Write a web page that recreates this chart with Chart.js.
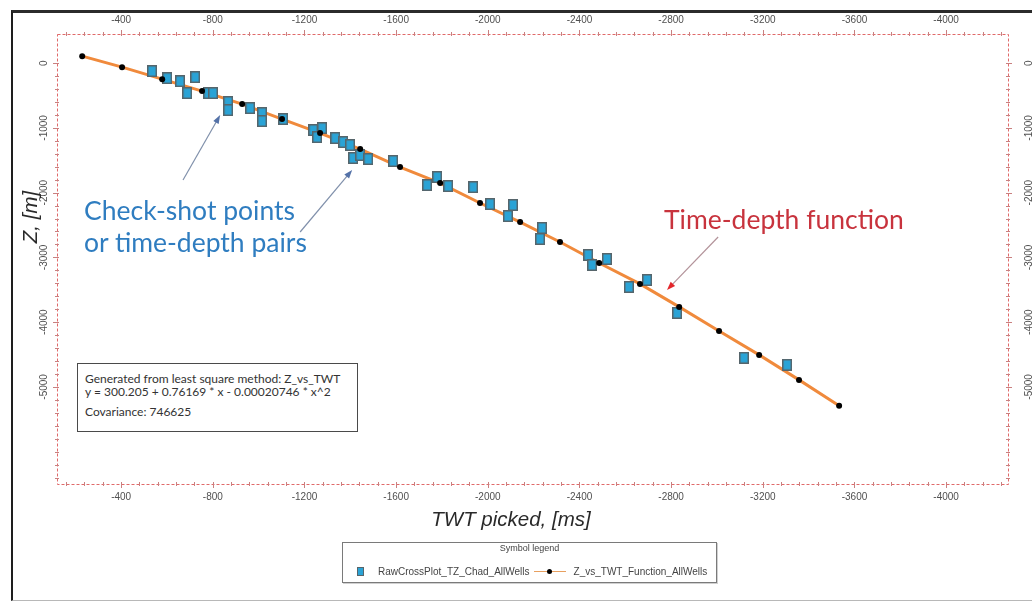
<!DOCTYPE html>
<html>
<head>
<meta charset="utf-8">
<script src="https://cdn.jsdelivr.net/npm/chart.js@4.4.1/dist/chart.umd.min.js"></script>
<style>
  html, body { margin: 0; padding: 0; background: #fff; }
  #wrap { position: relative; width: 1032px; height: 601px; overflow: hidden; }
  #outer { position: absolute; left: 11px; top: 10px; width: 1030px; height: 587px;
    border-top: 3px solid #2b2b2b; border-left: 2px solid #1e1e1e; border-bottom: 1px solid #b8b8b8; }
  #viz { position: absolute; left: 0; top: 0; }
  .note { position: absolute; font-family: Lato, "Open Sans", sans-serif; font-size: 26.5px; line-height: 32px; white-space: nowrap; }
  #note1 { left: 84px; top: 194px; color: #2f7dc0; }
  #note2 { left: 664px; top: 203px; color: #c8333d; }
  .axtitle { position: absolute; font-family: "Liberation Sans", Arial, sans-serif; font-style: italic; font-size: 20.5px;
    color: #2a2a2a; white-space: nowrap; }
  #xtitle { left: 511px; top: 519px; transform: translate(-50%, -50%); }
  #ytitle { left: 30px; top: 217px; transform: translate(-50%, -50%) rotate(-90deg); }
  #formula { position: absolute; left: 77px; top: 363px; width: 279px; height: 67px; border: 1px solid #4a4a4a; background: #fff;
    font-family: Lato, "Open Sans", sans-serif; font-size: 12px; color: #333; line-height: 13px; }
  #formula div { position: absolute; left: 7px; white-space: nowrap; }
  #legend { position: absolute; left: 342px; top: 542px; width: 373px; height: 39px; border: 1px solid #7a7a7a;
    box-shadow: 1px 1px 0 #d0d0d0; background: #fff; font-family: "Liberation Sans", Arial, sans-serif; color: #444; }
  #legend .title { position: absolute; left: 0; right: 0; top: 0px; text-align: center; font-size: 9px; }
  #legend .row { position: absolute; left: 14px; top: 23px; font-size: 10px; white-space: nowrap; display: flex; align-items: center; }
  .sq { display: inline-block; width: 5px; height: 7px; background: #2aa3d6; border: 1px solid #56656b; margin-right: 14px; }
  .ln { display: inline-block; position: relative; width: 32px; height: 9px; margin: 0 8px 0 4px; }
  .ln::before { content: ""; position: absolute; left: 0; right: 0; top: 4px; height: 1px; background: #e8a060; }
  .ln::after { content: ""; position: absolute; left: 13px; top: 2px; width: 5px; height: 5px; border-radius: 50%; background: #000; }
</style>
</head>
<body>
<div id="wrap">
  <div id="outer"></div>
  <canvas id="viz" width="1032" height="601"></canvas>
  <div class="note" id="note1">Check-shot points<br>or time-depth pairs</div>
  <div class="note" id="note2">Time-depth function</div>
  <div class="axtitle" id="xtitle">TWT picked, [ms]</div>
  <div class="axtitle" id="ytitle">Z, [m]</div>
  <div id="formula">
    <div style="top:8px">Generated from least square method: Z_vs_TWT</div>
    <div style="top:21px">y = 300.205 + 0.76169 * x - 0.00020746 * x^2</div>
    <div style="top:41px">Covariance: 746625</div>
  </div>
  <div id="legend">
    <div class="title">Symbol legend</div>
    <div class="row"><span class="sq"></span>RawCrossPlot_TZ_Chad_AllWells<span class="ln"></span>Z_vs_TWT_Function_AllWells</div>
  </div>
</div>
<script>
// TWT picked [ms] / Z [m] of the raw check-shot pairs
const rawTwt = [-535, -601, -657, -723, -688, -780, -801, -867, -867, -963, -1015, -1015, -1107, -1238,
  -1277, -1255, -1334, -1369, -1399, -1412, -1443, -1478, -1587, -1735, -1779, -1827, -1936, -2010,
  -2110, -2088, -2237, -2228, -2438, -2455, -2520, -2616, -2695, -2826, -3118, -3306];
const rawZ = [-123, -232, -278, -216, -463, -463, -463, -602, -725, -694, -772, -895, -864, -1034,
  -1003, -1142, -1157, -1219, -1265, -1466, -1420, -1481, -1512, -1883, -1759, -1898, -1914, -2176,
  -2191, -2361, -2546, -2716, -2963, -3117, -3025, -3457, -3349, -3858, -4552, -4660];

// samples of the fitted time-depth function
const fnTwt = [-230, -404, -579, -753, -928, -1102, -1268, -1443, -1617, -1792, -1966, -2141,
  -2315, -2486, -2664, -2835, -3009, -3184, -3358, -3533];
const fnZ = [108, -62, -247, -432, -633, -864, -1080, -1327, -1605, -1852, -2160, -2454,
  -2762, -3086, -3410, -3765, -4136, -4506, -4892, -5293];

// tick labels
const xTicks = [-400, -800, -1200, -1600, -2000, -2400, -2800, -3200, -3600, -4000];
const yTicks = [0, -1000, -2000, -3000, -4000, -5000];
const xMinorStep = 80, yMinorStep = 200;

// annotation arrows in data units: [twt, z]
const arrows = [
  { from: [-670, -1806], to: [-832, -802], line: '#8090ab', head: '#5472a8' },
  { from: [-1181, -2608], to: [-1408, -1651], line: '#8090ab', head: '#5472a8' },
  { from: [-3005, -2685], to: [-2782, -3503], line: '#b3939a', head: '#e3262b' }
];

const rawPoints = rawTwt.map((t, i) => ({ x: t, y: rawZ[i] }));
const fnPoints = fnTwt.map((t, i) => ({ x: t, y: fnZ[i] }));

function squareSymbol() {
  const c = document.createElement('canvas');
  c.width = 10; c.height = 12;
  const g = c.getContext('2d');
  g.fillStyle = '#56656b';
  g.fillRect(0, 0, 10, 12);
  g.fillStyle = '#2aa3d6';
  g.fillRect(1.5, 1.5, 7, 9);
  return c;
}

const labelFont = '10px "Liberation Sans", Arial, sans-serif';

const framePlugin = {
  id: 'frame',
  beforeDatasetsDraw(chart) {
    const { ctx, chartArea: a, scales } = chart;
    ctx.save();
    ctx.strokeStyle = '#e06a6a';
    ctx.lineWidth = 1;
    ctx.setLineDash([3, 2]);
    ctx.strokeRect(a.left + 0.5, a.top + 0.5, a.width, a.height);
    ctx.setLineDash([]);

    // minor and major tick marks on all four sides
    ctx.strokeStyle = '#c98080';
    ctx.beginPath();
    for (let v = 0; v >= scales.x.min; v -= xMinorStep) {
      if (v > scales.x.max) continue;
      const px = Math.round(scales.x.getPixelForValue(v)) + 0.5;
      const len = xTicks.includes(v) ? 4 : 2;
      ctx.moveTo(px, a.top - len); ctx.lineTo(px, a.top + 2);
      ctx.moveTo(px, a.bottom - 2); ctx.lineTo(px, a.bottom + len);
    }
    for (let v = 0; v >= scales.y.min; v -= yMinorStep) {
      const py = Math.round(scales.y.getPixelForValue(v)) + 0.5;
      const len = yTicks.includes(v) ? 4 : 2;
      ctx.moveTo(a.left - len, py); ctx.lineTo(a.left + 2, py);
      ctx.moveTo(a.right - 2, py); ctx.lineTo(a.right + len, py);
    }
    ctx.stroke();

    // tick labels
    ctx.fillStyle = '#505050';
    ctx.font = labelFont;
    ctx.textAlign = 'center';
    ctx.textBaseline = 'middle';
    xTicks.forEach(v => {
      const px = scales.x.getPixelForValue(v);
      ctx.fillText(String(v), px, a.top - 14);
      ctx.fillText(String(v), px, a.bottom + 13);
    });
    yTicks.forEach(v => {
      const py = scales.y.getPixelForValue(v);
      [a.left - 13, a.right + 21].forEach(px => {
        ctx.save();
        ctx.translate(px, py);
        ctx.rotate(-Math.PI / 2);
        ctx.fillText(String(v), 0, 0);
        ctx.restore();
      });
    });
    ctx.restore();
  },
  afterDraw(chart) {
    const { ctx, scales } = chart;
    ctx.save();
    arrows.forEach(ar => {
      const x0 = scales.x.getPixelForValue(ar.from[0]), y0 = scales.y.getPixelForValue(ar.from[1]);
      const x1 = scales.x.getPixelForValue(ar.to[0]), y1 = scales.y.getPixelForValue(ar.to[1]);
      const ang = Math.atan2(y1 - y0, x1 - x0);
      ctx.strokeStyle = ar.line;
      ctx.lineWidth = 1.2;
      ctx.beginPath();
      ctx.moveTo(x0, y0);
      ctx.lineTo(x1 - 6 * Math.cos(ang), y1 - 6 * Math.sin(ang));
      ctx.stroke();
      ctx.fillStyle = ar.head;
      ctx.beginPath();
      ctx.moveTo(x1, y1);
      ctx.lineTo(x1 - 9 * Math.cos(ang - 0.35), y1 - 9 * Math.sin(ang - 0.35));
      ctx.lineTo(x1 - 9 * Math.cos(ang + 0.35), y1 - 9 * Math.sin(ang + 0.35));
      ctx.closePath();
      ctx.fill();
    });
    ctx.restore();
  }
};

function xAxis(position, height) {
  return {
    type: 'linear', position: position, reverse: true, min: -4270, max: -120,
    afterFit: s => { s.height = height; },
    border: { display: false },
    grid: { display: false },
    ticks: { display: false }
  };
}
function yAxis(position, width) {
  return {
    type: 'linear', position: position, min: -6500, max: 450,
    afterFit: s => { s.width = width; },
    border: { display: false },
    grid: { display: false },
    ticks: { display: false }
  };
}

const ctx = document.getElementById('viz');
new Chart(ctx, {
  type: 'scatter',
  data: {
    datasets: [
      {
        label: 'Z_vs_TWT_Function_AllWells points',
        data: fnPoints,
        showLine: false,
        pointRadius: 3,
        pointBackgroundColor: '#000',
        pointBorderColor: '#000',
        pointBorderWidth: 0
      },
      {
        label: 'RawCrossPlot_TZ_Chad_AllWells',
        data: rawPoints,
        pointStyle: squareSymbol(),
        pointRadius: 6
      },
      {
        label: 'Z_vs_TWT_Function_AllWells',
        data: fnPoints,
        showLine: true,
        borderColor: '#f08a3c',
        borderWidth: 3,
        pointRadius: 0
      }
    ]
  },
  options: {
    responsive: false,
    animation: false,
    devicePixelRatio: 1,
    layout: { padding: { left: 14, top: 0, right: 0, bottom: 69 } },
    plugins: { legend: { display: false }, tooltip: { enabled: false } },
    scales: {
      x: xAxis('bottom', 48),
      x2: xAxis('top', 34),
      y: yAxis('left', 43),
      y2: yAxis('right', 24)
    }
  },
  plugins: [framePlugin]
});
</script>
</body>
</html>
